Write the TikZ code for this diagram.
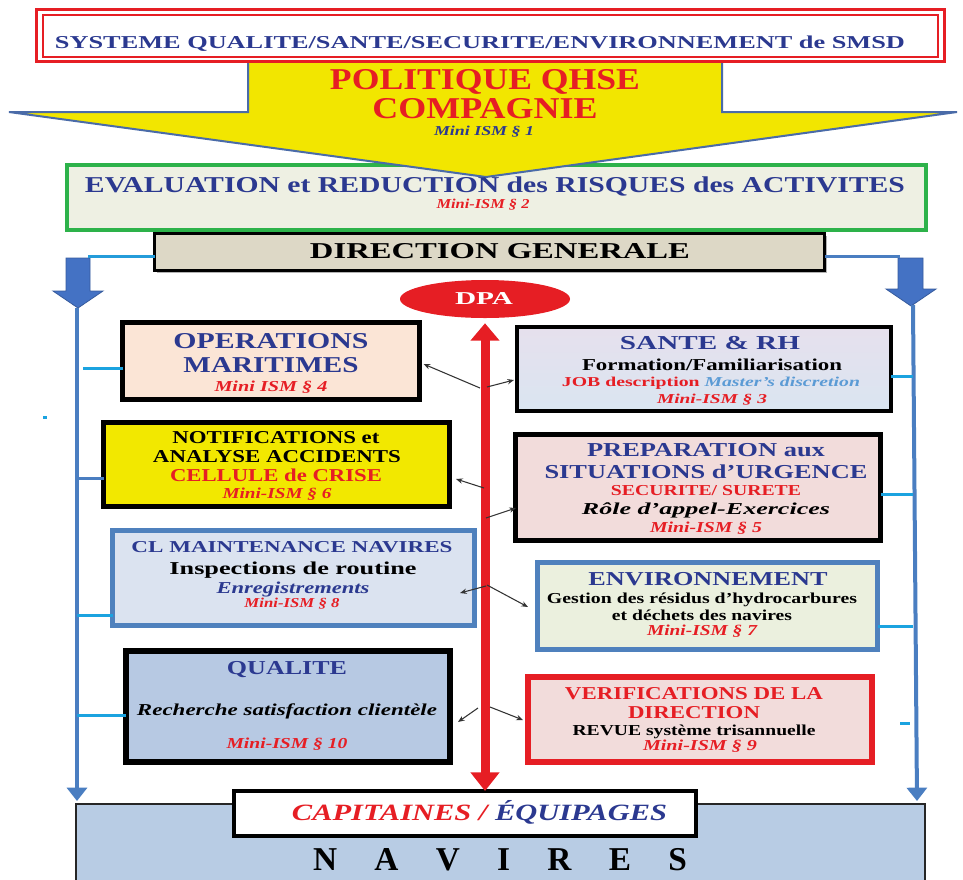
\documentclass[tikz,border=0pt]{standalone}
\usepackage{fontspec}
\setmainfont{Liberation Serif}
\usepackage{graphicx}
\usetikzlibrary{arrows.meta,shapes.geometric,fit,calc,shadows}
\newdimen\pxu \pxu=0.75pt
\newcommand\fs[1]{\fontsize{#1}{#1}\selectfont}
\newcommand\mytext[5]{\node[anchor=base,inner sep=0pt] (#1) at (#2,#3) {\resizebox{#4\pxu}{\height}{#5}};}
\definecolor{navy}{RGB}{43,57,144}
\definecolor{redc}{RGB}{230,30,36}
\definecolor{tblue}{RGB}{91,155,213}
\definecolor{vblue}{RGB}{74,126,193}
\definecolor{tickc}{RGB}{27,163,224}
\definecolor{yel}{RGB}{242,230,0}
\definecolor{yelbox}{RGB}{242,232,0}
\definecolor{peach}{RGB}{251,229,214}
\definecolor{clfill}{RGB}{219,227,240}
\definecolor{clborder}{RGB}{79,129,189}
\definecolor{qualfill}{RGB}{183,201,227}
\definecolor{santetop}{RGB}{230,224,237}
\definecolor{santebot}{RGB}{218,229,241}
\definecolor{prepfill}{RGB}{242,220,219}
\definecolor{envfill}{RGB}{235,240,222}
\definecolor{navfill}{RGB}{184,204,228}
\definecolor{dgfill}{RGB}{221,216,198}
\definecolor{greenfill}{RGB}{238,240,227}
\definecolor{greenb}{RGB}{45,178,74}
\definecolor{blockblue}{RGB}{68,114,196}
\definecolor{arrowline}{RGB}{74,107,168}
\begin{document}
\begin{tikzpicture}[x=0.75pt,y=-0.75pt,
  bx/.style={inner sep=0pt, outer sep=0pt},
  blackbox/.style={bx, draw=black, line width=3.75pt},
  bluebox/.style={bx, draw=clborder, line width=3.75pt},
  tick/.style={draw=tickc, line width=2.25pt},
  vline/.style={draw=vblue, line width=3pt, -{Triangle[width=15pt,length=10pt]}},
  conn/.style={draw=black!80, line width=0.8pt, -{Stealth[length=5pt,width=4pt]}},
  blockarrow/.style={fill=blockblue, draw=blockblue!80!black, line width=0.6pt}]
\useasboundingbox (0,0) rectangle (963,879);
\clip (0,0) rectangle (963,879);

% NAVIRES base
\node[bx, fit={(76,804) (925,900)}, fill=navfill, draw=black!85, line width=1.5pt] (nav) {};

% green evaluation box
\node[bx, fit={(67,165) (926,230)}, fill=greenfill, draw=greenb, line width=3pt] (eval) {};

% yellow arrow
\draw[fill=yel, draw=arrowline, line width=1.5pt]
  (248,55) -- (722,55) -- (722,112) -- (957,112) -- (486,177) -- (9,112) -- (248,112) -- cycle;

% title box
\node[bx, fit={(36.5,9.5) (944.5,61.5)}, fill=white, draw=redc, line width=2.25pt] (title) {};
\draw[redc, line width=1.5pt] ($(title.south west)+(6.5,-5)$) rectangle ($(title.north east)+(-6.5,5)$);

% direction generale
\node[bx, fit={(154.5,233.5) (824.5,270.5)}, fill=dgfill, draw=black, line width=2.25pt,
  drop shadow={shadow xshift=2pt,shadow yshift=-2pt,opacity=0.6}] (dg) {};

% blue block arrows
\draw[blockarrow] (66,258) -- (90,258) -- (90,291) -- (103,291) -- (78,308) -- (53,291) -- (66,291) -- cycle;
\draw[blockarrow] (898,258) -- (923,258) -- (923,289) -- (936,289) -- (911,306) -- (886,289) -- (898,289) -- cycle;
\coordinate (ltop) at (88,256);
\coordinate (rtop) at (900,256);
\draw[tick, draw=tickc!80!vblue] (ltop) -- (ltop -| dg.west);
\draw[tick, draw=vblue] (rtop) -- (rtop -| dg.east);

% vertical lines
\coordinate (lv) at (77,308);
\coordinate (rv) at (913,305);
\draw[vline] (lv) -- ($(nav.north west)+(1,-3)$);
\draw[vline] (rv) -- ($(nav.north east)+(-8,-3)$);

% boxes
\node[blackbox, fit={(122.5,322.5) (419.5,399.5)}, fill=peach] (ops) {};
\node[blackbox, fit={(103.5,422.5) (449.5,506.5)}, fill=yelbox] (notif) {};
\node[bluebox, fit={(112.5,530.5) (474.5,625.5)}, fill=clfill] (cl) {};
\node[blackbox, fit={(126,651) (450,762)}, fill=qualfill, line width=4.5pt] (qual) {};
\node[blackbox, fit={(517,327) (891,411)}, top color=santetop, bottom color=santebot, line width=3pt] (sante) {};
\node[blackbox, fit={(515.5,434.5) (880.5,540.5)}, fill=prepfill] (prep) {};
\node[bluebox, fit={(537.5,562.5) (877.5,649.5)}, fill=envfill] (env) {};
\node[bx, fit={(528,677) (872,762)}, fill=prepfill, draw=redc, line width=4.5pt] (verif) {};

% ticks
\coordinate (t1) at (83,368);
\coordinate (t2) at (77,478);
\coordinate (t3) at (77,615);
\coordinate (t4) at (77,715);
\coordinate (t5) at (913,376);
\coordinate (t6) at (913,494);
\coordinate (t7) at (913,626);
\coordinate (t8a) at (900,723);
\coordinate (t8b) at (910,723);
\coordinate (dota) at (43,417);
\coordinate (dotb) at (47,417);
\draw[tick] (t1) -- (t1 -| ops.west);
\draw[tick, draw=vblue] (t2) -- (t2 -| notif.west);
\draw[tick] (t3) -- (t3 -| cl.west);
\draw[tick] (t4) -- (t4 -| qual.west);
\draw[tick] (t5) -- (t5 -| sante.east);
\draw[tick] (t6) -- (t6 -| prep.east);
\draw[tick] (t7) -- (t7 -| env.east);
\draw[tick] (t8a) -- (t8b);
\draw[tick] (dota) -- (dotb);

% capitaines box
\node[bx, fit={(234,791) (696,836)}, fill=white, draw=black, line width=3pt] (capt) {};

% DPA and red arrow
\node[ellipse, fill=redc, minimum width=127.5pt, minimum height=28.5pt, inner sep=0pt] (dpa) at (485,299) {};
\draw[redc, line width=6.75pt, {Triangle[width=21pt,length=13pt]}-{Triangle[width=21pt,length=14pt]}]
  ($(dpa.south)+(0,5)$) -- (capt.north -| dpa.south);

% small black arrows
\coordinate (c1) at (480,388);
\coordinate (c2) at (487,387);
\coordinate (c3) at (484,488);
\coordinate (c4) at (486,518);
\coordinate (c5) at (486,586);
\coordinate (c6) at (487,585);
\coordinate (c7) at (478,708);
\coordinate (c8) at (490,707);
\draw[conn] (c1) -- ($(ops.east)+(4,3)$);
\draw[conn] (c2) -- ($(sante.west)+(-3,11)$);
\draw[conn] (c3) -- ($(notif.east)+(6.5,14.5)$);
\draw[conn] (c4) -- ($(prep.west)+(0.5,20.5)$);
\draw[conn] (c5) -- ($(cl.east)+(-14.5,15)$);
\draw[conn] (c6) -- ($(env.west)+(-9.5,1)$);
\draw[conn] (c7) -- ($(qual.east)+(8,15.5)$);
\draw[conn] (c8) -- ($(verif.west)+(-5,0.5)$);

% texts
\mytext{ttitle}{480}{48}{850}{\fs{13.6}\bfseries\color{navy}SYSTEME QUALITE/SANTE/SECURITE/ENVIRONNEMENT de SMSD}
\mytext{tpol}{485}{89}{310}{\fs{22.7}\bfseries\color{redc}POLITIQUE QHSE}
\mytext{tcomp}{485}{118}{225}{\fs{22.7}\bfseries\color{redc}COMPAGNIE}
\mytext{tism1}{484}{135}{100}{\fs{10.2}\bfseries\itshape\color{navy}Mini ISM § 1}
\mytext{teval}{495}{192.5}{820}{\fs{17}\bfseries\color{navy}EVALUATION et REDUCTION des RISQUES des ACTIVITES}
\mytext{tism2}{483}{208.5}{93}{\fs{10.2}\bfseries\itshape\color{redc}Mini-ISM § 2}
\mytext{tdg}{500}{258.5}{380}{\fs{17}\bfseries DIRECTION GENERALE}
\mytext{tdpa}{484}{304}{58}{\fs{13.6}\bfseries\color{white}DPA}

\mytext{tops1}{271}{348.5}{195}{\fs{17}\bfseries\color{navy}OPERATIONS}
\mytext{tops2}{271}{372.5}{175}{\fs{17}\bfseries\color{navy}MARITIMES}
\mytext{tops3}{271}{391}{113}{\fs{11.4}\bfseries\itshape\color{redc}Mini ISM § 4}

\mytext{tnot1}{276}{443}{207}{\fs{13.6}\bfseries NOTIFICATIONS et}
\mytext{tnot2}{277}{462}{248}{\fs{13.6}\bfseries ANALYSE ACCIDENTS}
\mytext{tnot3}{276}{481}{212}{\fs{13.6}\bfseries\color{redc}CELLULE de CRISE}
\mytext{tnot4}{277}{498}{109}{\fs{11.4}\bfseries\itshape\color{redc}Mini-ISM § 6}

\mytext{tcl1}{292}{552.5}{321}{\fs{12.5}\bfseries\color{navy}CL MAINTENANCE NAVIRES}
\mytext{tcl2}{293}{574}{247}{\fs{13.6}\bfseries Inspections de routine}
\mytext{tcl3}{293}{593.5}{153}{\fs{12.5}\bfseries\itshape\color{navy}Enregistrements}
\mytext{tcl4}{292}{607.5}{95}{\fs{10.2}\bfseries\itshape\color{redc}Mini-ISM § 8}

\mytext{tq1}{287}{674.5}{120}{\fs{14.8}\bfseries\color{navy}QUALITE}
\mytext{tq2}{287}{715.5}{300}{\fs{12.5}\bfseries\itshape Recherche satisfaction clientèle}
\mytext{tq3}{287}{748}{121}{\fs{11.4}\bfseries\itshape\color{redc}Mini-ISM § 10}

\mytext{ts1}{710}{349.5}{180}{\fs{14.8}\bfseries\color{navy}SANTE \& RH}
\mytext{ts2}{712}{370.5}{260}{\fs{12.5}\bfseries Formation/Familiarisation}
\mytext{ts3}{711}{386.5}{298}{\fs{10.2}\bfseries\color{redc}JOB description {\itshape\color{tblue}Master’s discretion}}
\mytext{ts4}{712}{403.5}{110}{\fs{10.2}\bfseries\itshape\color{redc}Mini-ISM § 3}

\mytext{tp1}{706}{456.5}{238}{\fs{14.8}\bfseries\color{navy}PREPARATION aux}
\mytext{tp2}{706}{478.5}{323}{\fs{14.8}\bfseries\color{navy}SITUATIONS d’URGENCE}
\mytext{tp3}{706}{495}{190}{\fs{11.4}\bfseries\color{redc}SECURITE/ SURETE}
\mytext{tp4}{706}{514.5}{248}{\fs{12.5}\bfseries\itshape Rôle d’appel-Exercices}
\mytext{tp5}{706}{532}{112}{\fs{11.4}\bfseries\itshape\color{redc}Mini-ISM § 5}

\mytext{te1}{708}{585.5}{239}{\fs{14.8}\bfseries\color{navy}ENVIRONNEMENT}
\mytext{te2}{702}{603}{310}{\fs{11.4}\bfseries Gestion des résidus d’hydrocarbures}
\mytext{te3}{702}{620}{180}{\fs{11.4}\bfseries et déchets des navires}
\mytext{te4}{702}{635}{110}{\fs{11.4}\bfseries\itshape\color{redc}Mini-ISM § 7}

\mytext{tv1}{694}{699}{258}{\fs{13.6}\bfseries\color{redc}VERIFICATIONS DE LA}
\mytext{tv2}{694}{718}{132}{\fs{13.6}\bfseries\color{redc}DIRECTION}
\mytext{tv3}{694}{735}{243}{\fs{11.4}\bfseries REVUE système trisannuelle}
\mytext{tv4}{700}{750}{114}{\fs{11.4}\bfseries\itshape\color{redc}Mini-ISM § 9}

\mytext{tcapt}{479.5}{820}{375}{\fs{17.5}\bfseries\itshape\color{redc}CAPITAINES / \color{navy}ÉQUIPAGES}
\node[anchor=base, inner sep=0pt] (tnav) at (500,870) {\fs{25}\bfseries\makebox[374\pxu][s]{N\hfill A\hfill V\hfill I\hfill R\hfill E\hfill S}};
\end{tikzpicture}
\end{document}
